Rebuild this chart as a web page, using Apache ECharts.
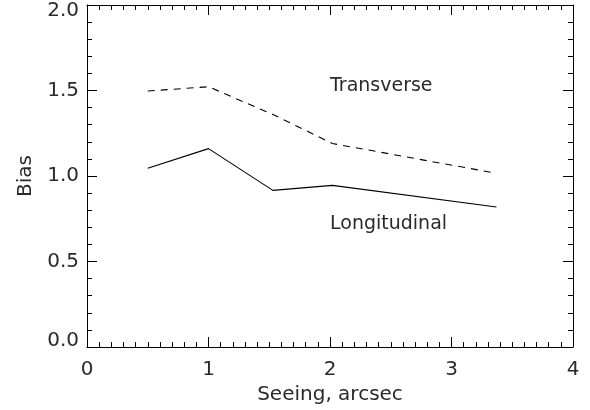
<!DOCTYPE html>
<html>
<head>
<meta charset="utf-8">
<script src="https://cdn.jsdelivr.net/npm/echarts@6/dist/echarts.min.js"></script>
<style>
html,body{margin:0;padding:0;background:#fff;}
#c{width:590px;height:410px;}
</style>
</head>
<body>
<div id="c"></div>
<script>
const seeing = [0.5, 1.0, 1.53, 2.02, 3.37];
const longitudinal = [1.045, 1.16, 0.916, 0.945, 0.819];
const transverse = [1.497, 1.522, 1.36, 1.19, 1.016];
const xTicks = [0, 1, 2, 3, 4];
const yTicks = [0.0, 0.5, 1.0, 1.5, 2.0];
const xName = 'Seeing, arcsec';
const yName = 'Bias';
const labelTransverse = 'Transverse';
const labelLongitudinal = 'Longitudinal';

const FONT = 'DejaVu Sans';
const INK = '#000';
const TXT = '#2a2a2a';

const pairs = (xs, ys) => xs.map((x, i) => [x, ys[i]]);

const chart = echarts.init(document.getElementById('c'), null, {renderer: 'canvas'});

const baseAxisLine = {show: true, onZero: false, lineStyle: {color: INK, width: 1}};

chart.setOption({
  animation: false,
  backgroundColor: '#fff',
  grid: {left: 87, right: 17, top: 5, bottom: 63, containLabel: false},
  xAxis: [{
    type: 'value', position: 'bottom',
    min: xTicks[0], max: xTicks[xTicks.length - 1], interval: 1,
    name: xName, nameLocation: 'middle', nameGap: 34,
    nameTextStyle: {fontFamily: FONT, fontSize: 20, color: TXT},
    axisLine: baseAxisLine,
    axisTick: {show: true, inside: true, length: 10, lineStyle: {color: INK, width: 1}},
    minorTick: {show: true, splitNumber: 10, length: 5, lineStyle: {color: INK, width: 1}},
    splitLine: {show: false},
    axisLabel: {fontFamily: FONT, fontSize: 20, color: TXT, margin: 13, formatter: v => String(v)}
  }, {
    type: 'value', position: 'top',
    min: xTicks[0], max: xTicks[xTicks.length - 1], interval: 1,
    axisLine: baseAxisLine,
    axisTick: {show: true, inside: true, length: 10, lineStyle: {color: INK, width: 1}},
    minorTick: {show: true, splitNumber: 10, length: 5, lineStyle: {color: INK, width: 1}},
    splitLine: {show: false},
    axisLabel: {show: false}
  }],
  yAxis: [{
    type: 'value', position: 'left',
    min: yTicks[0], max: yTicks[yTicks.length - 1], interval: 0.5,
    name: yName, nameLocation: 'middle', nameGap: 50, nameRotate: 90,
    nameTextStyle: {fontFamily: FONT, fontSize: 20, color: TXT},
    axisLine: baseAxisLine,
    axisTick: {show: true, inside: true, length: 10, lineStyle: {color: INK, width: 1}},
    minorTick: {show: true, splitNumber: 5, length: 5, lineStyle: {color: INK, width: 1}},
    splitLine: {show: false},
    axisLabel: {
      fontFamily: FONT, fontSize: 20, color: TXT, margin: 8, lineHeight: 12,
      verticalAlignMinLabel: 'bottom', verticalAlignMaxLabel: 'top',
      formatter: v => v.toFixed(1)
    }
  }, {
    type: 'value', position: 'right',
    min: yTicks[0], max: yTicks[yTicks.length - 1], interval: 0.5,
    axisLine: baseAxisLine,
    axisTick: {show: true, inside: true, length: 10, lineStyle: {color: INK, width: 1}},
    minorTick: {show: true, splitNumber: 5, length: 5, lineStyle: {color: INK, width: 1}},
    splitLine: {show: false},
    axisLabel: {show: false}
  }],
  series: [{
    name: labelLongitudinal, type: 'line', xAxisIndex: 0, yAxisIndex: 0,
    data: pairs(seeing, longitudinal),
    symbol: 'none', lineStyle: {color: INK, width: 1.1, type: 'solid'},
    markPoint: {
      symbol: 'circle', symbolSize: 0, silent: true,
      data: [{coord: [2.0, 0.718], value: 0}],
      label: {show: true, formatter: labelLongitudinal, position: [0, 0], align: 'left', verticalAlign: 'middle',
        fontFamily: FONT, fontSize: 19, color: TXT}
    }
  }, {
    name: labelTransverse, type: 'line', xAxisIndex: 0, yAxisIndex: 0,
    data: pairs(seeing, transverse),
    symbol: 'none', lineStyle: {color: INK, width: 1.1, type: [7, 6]},
    markPoint: {
      symbol: 'circle', symbolSize: 0, silent: true,
      data: [{coord: [2.0, 1.525], value: 0}],
      label: {show: true, formatter: labelTransverse, position: [0, 0], align: 'left', verticalAlign: 'middle',
        fontFamily: FONT, fontSize: 19, color: TXT}
    }
  }]
});
</script>
</body>
</html>
